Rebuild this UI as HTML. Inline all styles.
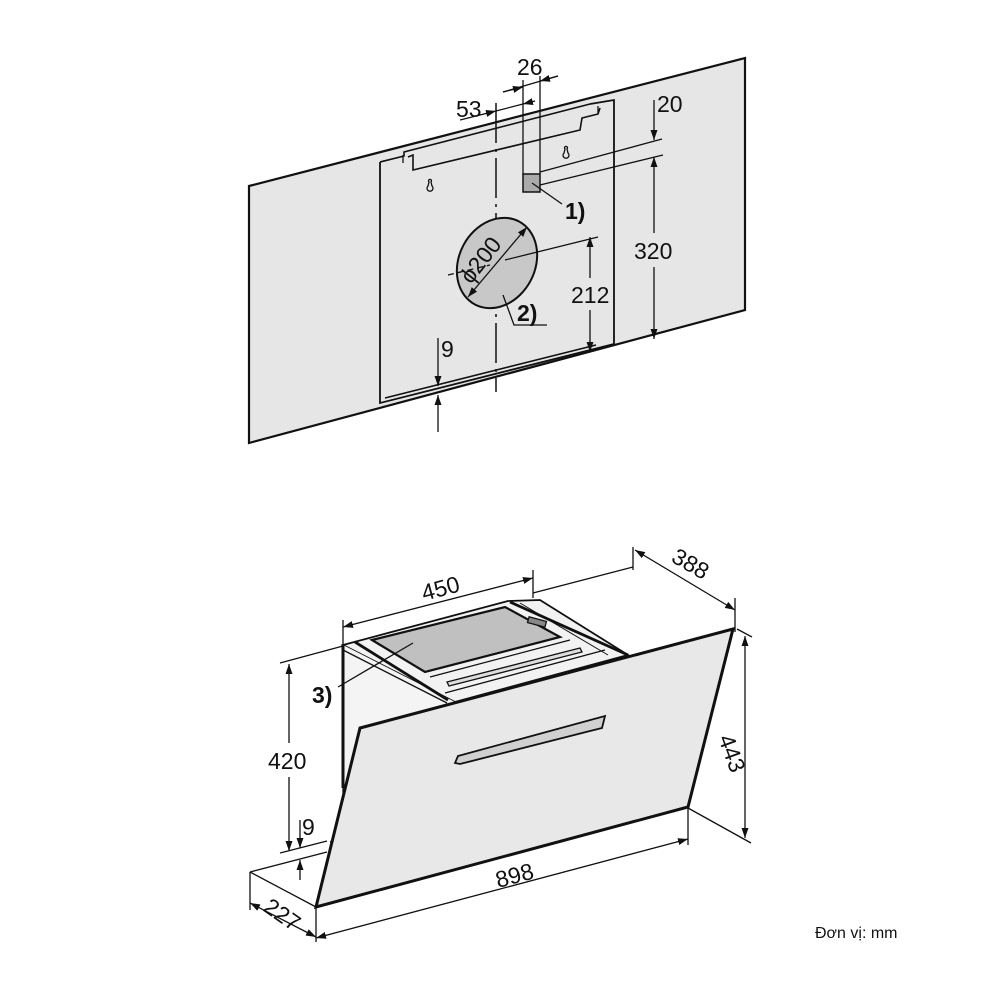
<!DOCTYPE html>
<html><head><meta charset="utf-8"><style>
html,body{margin:0;padding:0;background:#fff}
svg{display:block}
text{font-family:"Liberation Sans",sans-serif;fill:#111}
</style></head><body>
<svg width="1000" height="1000" viewBox="0 0 1000 1000" xmlns="http://www.w3.org/2000/svg">
<defs>
<marker id="a" viewBox="0 0 10 10" refX="10" refY="5" markerWidth="10" markerHeight="10" orient="auto-start-reverse" markerUnits="userSpaceOnUse"><path d="M0,1.5 L10,5 L0,8.5 z" fill="#111"/></marker>
</defs>
<g stroke="#111" fill="none" stroke-width="1.3">
<polygon points="249,186 745,58 745,310 249,443" fill="#e6e6e6" stroke-width="2.2"/>
<polyline points="380,162 380,403 614,344 614,100 590,104" stroke-width="1.8"/>
<line x1="385" y1="398" x2="596" y2="345" stroke-width="1.6"/>
<polyline points="380,162 404,156 404,152 590,104" stroke-width="1.6"/>
<polyline points="408,157 413,155 413,170 580,130 582,118 598,114 600,108" stroke-width="1.6"/>
<line x1="403" y1="155" x2="403" y2="163"/>
<line x1="598" y1="106" x2="598" y2="113"/>
<path d="M428,186 a3,3 0 1 0 4,0 l-1,-4 a1.5,1.5 0 1 0 -2,0 z"/>
<path d="M564,153 a3,3 0 1 0 4,0 l-1,-4 a1.5,1.5 0 1 0 -2,0 z"/>
<line x1="496" y1="103" x2="496" y2="392" stroke-dasharray="40,6,3,6" stroke-width="1.5"/>
<ellipse cx="497" cy="263" rx="38" ry="47" transform="rotate(28 497 263)" fill="#c8c8c8" stroke-width="2"/>
<line x1="448" y1="275" x2="490" y2="265" stroke-dasharray="6,4"/>
<line x1="505" y1="260" x2="598" y2="237"/>
<line x1="468" y1="297" x2="527" y2="227" marker-start="url(#a)" marker-end="url(#a)"/>
<polyline points="503,295 514,325 547,325"/>
<rect x="523" y="174" width="17" height="18" fill="#aaa" stroke-width="1.5"/>
<line x1="523" y1="174" x2="523" y2="80"/>
<line x1="540" y1="174" x2="540" y2="76"/>
<line x1="532" y1="183" x2="562" y2="204"/>
<line x1="540" y1="172" x2="662" y2="139"/>
<line x1="540" y1="185" x2="663" y2="155"/>
<line x1="503" y1="92" x2="523" y2="87" marker-end="url(#a)"/>
<line x1="558" y1="76" x2="540" y2="81" marker-end="url(#a)"/>
<line x1="503" y1="92" x2="558" y2="76"/>
<line x1="460" y1="120" x2="496" y2="111" marker-end="url(#a)"/>
<line x1="535" y1="101" x2="523" y2="104" marker-end="url(#a)"/>
<line x1="496" y1="111" x2="523" y2="104"/>
<line x1="654" y1="100" x2="654" y2="140" marker-end="url(#a)"/>
<line x1="654" y1="157" x2="654" y2="233" marker-start="url(#a)"/>
<line x1="654" y1="267" x2="654" y2="339" marker-end="url(#a)"/>
<line x1="590" y1="237" x2="590" y2="278" marker-start="url(#a)"/>
<line x1="590" y1="310" x2="590" y2="352" marker-end="url(#a)"/>
<line x1="438" y1="338" x2="438" y2="386" marker-end="url(#a)"/>
<line x1="438" y1="432" x2="438" y2="395" marker-end="url(#a)"/>

<line x1="250" y1="872" x2="316" y2="907"/>
<line x1="250" y1="872" x2="327" y2="852"/>
<line x1="250" y1="872" x2="250" y2="910"/>
<line x1="316" y1="907" x2="316" y2="942"/>
<polygon points="343,645 508,601 540,600 628,655 455,702" fill="#f2f2f2" stroke-width="1.8"/>
<polygon points="343,645 455,702 455,760 343,787" fill="#f4f4f4" stroke="none"/>
<line x1="343" y1="645" x2="343" y2="788" stroke-width="3"/>
<line x1="343" y1="650" x2="447" y2="703"/>
<polygon points="372,640 505,607 560,637 425,672" fill="#c0c0c0" stroke-width="2.2"/>
<line x1="355" y1="642" x2="448" y2="700" stroke-width="2.8"/>
<line x1="510" y1="602" x2="628" y2="655" stroke-width="2.8"/>
<line x1="520" y1="603" x2="608" y2="655" stroke-width="1"/>
<line x1="430" y1="677" x2="570" y2="640"/>
<line x1="445" y1="693" x2="605" y2="650"/>
<polygon points="447,682 580,648 582,652 449,686" fill="#ddd"/>
<rect x="528" y="619" width="18" height="6" fill="#888" transform="rotate(15 537 622)"/>
<line x1="343" y1="788" x2="343" y2="838" stroke-dasharray="5,4"/>
<line x1="343" y1="838" x2="406" y2="873" stroke-dasharray="5,4"/>
<line x1="330" y1="842" x2="343" y2="838" stroke-dasharray="5,4"/>
<polygon points="360,728 733,629 688,807 316,907" fill="#e8e8e8" stroke-width="3"/>
<polygon points="458,756 605,716 602,728 590,731 460,764 455,763" fill="#d0d0d0" stroke-width="1.8"/>
<line x1="338" y1="687" x2="413" y2="643"/>
<line x1="343" y1="620" x2="343" y2="645"/>
<line x1="533" y1="570" x2="533" y2="598"/>
<line x1="343" y1="627" x2="533" y2="578" marker-start="url(#a)" marker-end="url(#a)"/>
<line x1="533" y1="593" x2="633" y2="567"/>
<line x1="633" y1="547" x2="633" y2="570"/>
<line x1="735" y1="598" x2="735" y2="632"/>
<line x1="635" y1="550" x2="735" y2="610" marker-start="url(#a)" marker-end="url(#a)"/>
<line x1="737" y1="629" x2="752" y2="637"/>
<line x1="688" y1="808" x2="751" y2="843"/>
<line x1="745" y1="636" x2="745" y2="838" marker-start="url(#a)" marker-end="url(#a)"/>
<line x1="280" y1="663" x2="343" y2="646"/>
<line x1="280" y1="853" x2="327" y2="841"/>
<line x1="289" y1="664" x2="289" y2="743" marker-start="url(#a)"/>
<line x1="289" y1="777" x2="289" y2="851" marker-end="url(#a)"/>
<line x1="300" y1="820" x2="300" y2="848" marker-end="url(#a)"/>
<line x1="300" y1="880" x2="300" y2="860" marker-end="url(#a)"/>
<line x1="250" y1="903" x2="316" y2="937" marker-start="url(#a)" marker-end="url(#a)"/>
<line x1="688" y1="808" x2="688" y2="845"/>
<line x1="316" y1="938" x2="688" y2="839" marker-start="url(#a)" marker-end="url(#a)"/>
</g>
<g font-size="23" style="font-stretch:condensed">
<text x="517" y="75">26</text>
<text x="456" y="117">53</text>
<text x="657" y="112">20</text>
<text x="634" y="259">320</text>
<text x="571" y="303">212</text>
<text x="441" y="357">9</text>
<text x="0" y="0" transform="translate(471,285) rotate(-52)">ϕ200</text>
<text x="565" y="219" font-weight="bold" font-size="23">1)</text>
<text x="517" y="321" font-weight="bold" font-size="23">2)</text>
<text x="0" y="0" transform="translate(424,601) rotate(-15)">450</text>
<text x="0" y="0" transform="translate(670,561) rotate(30)">388</text>
<text x="0" y="0" transform="translate(718,738) rotate(70)">443</text>
<text x="268" y="769">420</text>
<text x="302" y="835">9</text>
<text x="0" y="0" transform="translate(262,910) rotate(35)">227</text>
<text x="0" y="0" transform="translate(498,888) rotate(-15)">898</text>
<text x="312" y="703" font-weight="bold" font-size="23">3)</text>
<text x="815" y="938" font-size="16">Đơn vị: mm</text>
</g>
</svg>
</body></html>
